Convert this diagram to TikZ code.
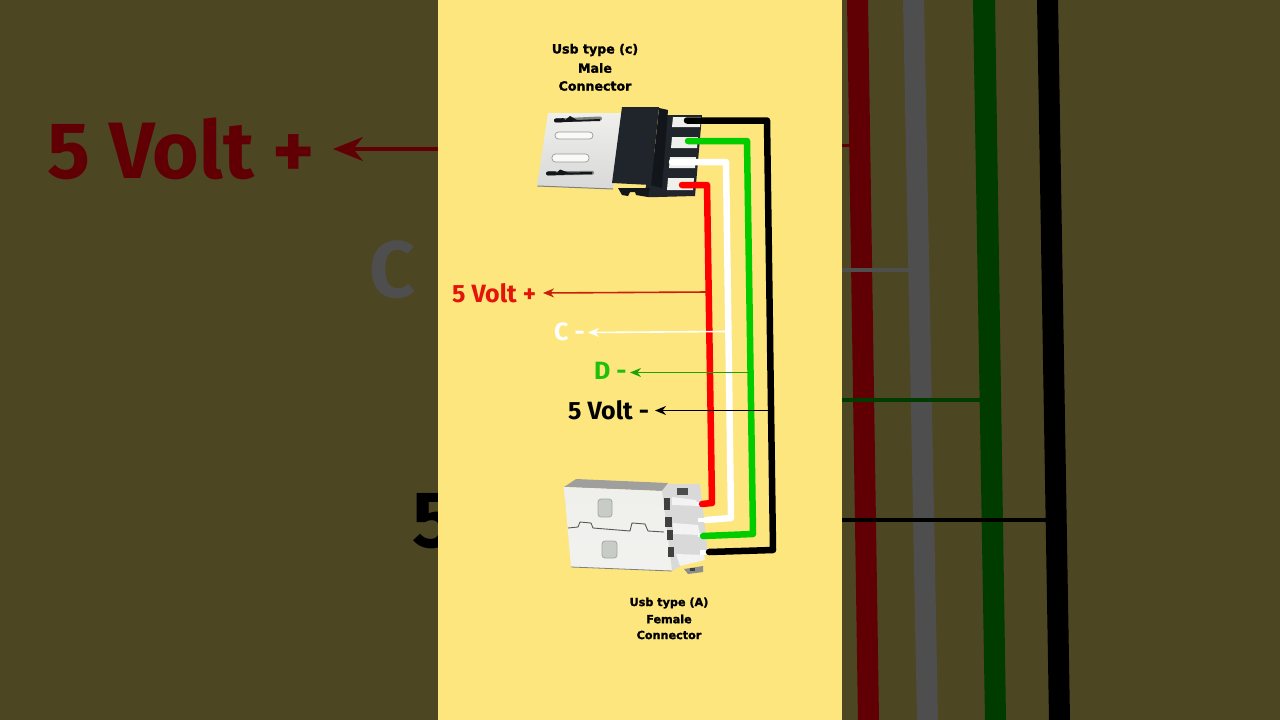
\documentclass[tikz,border=0pt]{standalone}
\usepackage{fontspec}
\usetikzlibrary{arrows.meta}
\setmainfont{Fira Sans}
\newfontfamily\capfont[BoldFont={DejaVu Sans Bold},BoldFeatures={FakeBold=1.6}]{DejaVu Sans}
\definecolor{dimbg}{HTML}{4D4623}
\definecolor{panel}{HTML}{FEE67E}
\definecolor{dimred}{HTML}{600005}
\definecolor{dimgray}{HTML}{4E4E4E}
\definecolor{dimgreen}{HTML}{003C00}
\definecolor{wred}{HTML}{FF0000}
\definecolor{wgreen}{HTML}{00CC00}
\definecolor{lred}{HTML}{E4140A}
\definecolor{lgreen}{HTML}{20C00A}
\definecolor{arred}{HTML}{C8200C}
\definecolor{moldblack}{HTML}{20242B}
\definecolor{molddark}{HTML}{12151A}
\definecolor{metal}{HTML}{EFEFEC}
\definecolor{metalb}{HTML}{D8D9D8}
\definecolor{metald}{HTML}{7F817E}
\definecolor{holefill}{HTML}{C8CCC6}
\tikzset{
  wire/.style={line width=6.5pt,line cap=round,line join=round},
  pointer/.style={line width=1.6pt,-{Stealth[length=11pt,width=9pt]}},
  caption/.style={inner sep=0pt,font=\capfont\bfseries\fontsize{#1}{#1}\selectfont},
  wirelabel/.style={inner sep=0pt,anchor=base west,font=\bfseries\fontsize{25}{25}\selectfont},
  biglabel/.style={inner sep=0pt,anchor=base west,font=\bfseries\fontsize{80}{80}\selectfont},
  pinmetal/.style={fill=metal,draw=none}
}
\begin{document}
\begin{tikzpicture}[x=1pt,y=-1pt]
\useasboundingbox (0,0) rectangle (1280,720);
\fill[dimbg] (0,0) rectangle (1280,720);
% dim enlarged left side
\node[biglabel,text=dimred] (bigv) at (47,178) {5 Volt +};
\coordinate (bigfrom) at (440,149);
\coordinate (bigto) at (333,149);
\draw[line width=3.5pt,dimred,-{Stealth[length=30pt,width=24pt]}] (bigfrom) -- (bigto);
\node[biglabel,text=dimgray] (bigc) at (369,297) {C};
\node[biglabel,text=black] (bigfive) at (412,547) {5};
% dim enlarged right side
\fill[dimred] (847,0) -- (868,0) -- (879,720) -- (858,720) -- cycle;
\fill[dimgray] (903,0) -- (924,0) -- (938,720) -- (917,720) -- cycle;
\fill[dimgreen] (973,0) -- (995,0) -- (1006,720) -- (985,720) -- cycle;
\fill[black] (1037,0) -- (1058,0) -- (1070,720) -- (1049,720) -- cycle;
\fill[dimred] (842,143.5) rectangle (849,146.5);
\fill[dimgray] (842,268) rectangle (909,272);
\fill[dimgreen] (842,398) rectangle (980,402);
\fill[black] (842,518) rectangle (1046,522);
% centre panel
\fill[panel] (438,0) rectangle (842,720);
% captions
\node[caption=12.6] (c1) at (595,50) {Usb type (c)};
\node[caption=12.6] (c2) at (595,68) {Male};
\node[caption=12.6] (c3) at (595,86) {Connector};
\node[caption=11.2] (a1) at (669,603) {Usb type (A)};
\node[caption=11.2] (a2) at (669,619) {Female};
\node[caption=11.2] (a3) at (669,635) {Connector};
% micro connector: back plate and pins
\fill[moldblack] (664,115) -- (702,115) -- (695,196) -- (658,197) -- (648,197) -- (645,190) -- cycle;
\fill[molddark] (618,188) -- (650,188) -- (648,197) -- (636,195) -- (635,192) -- (630,192) -- (628,196) -- (622,195) -- cycle;
\fill[pinmetal] (673,117) -- (701,117) -- (700,127) -- (672,127) -- cycle;
\fill[pinmetal] (672,137) -- (698,137) -- (697,148) -- (671,148) -- cycle;
\fill[pinmetal] (670,157) -- (696,157) -- (695,168) -- (669,168) -- cycle;
\fill[pinmetal] (668,178) -- (694,178) -- (693,190) -- (667,190) -- cycle;
% micro connector: metal shell
\shade[top color=metal,bottom color=metalb] (548,113) -- (622,113) -- (613,189) -- (537,186) -- cycle;
\draw[metald,line width=1pt] (537.5,186) -- (613,189);
\draw[line width=4pt,metald,line cap=round] (556,120.5) -- (600,118.5);
\draw[line width=4pt,molddark,line cap=round] (556,120.5) -- (563,120.2);
\fill[molddark] (563,122) -- (570,116) -- (577,120) -- (600,119) -- (600,121) -- cycle;
\draw[line width=4pt,metald,line cap=round] (548,173.5) -- (592,172.8);
\draw[line width=4pt,molddark,line cap=round] (548,173.5) -- (555,173.4);
\fill[molddark] (555,175) -- (560,169.5) -- (568,172.5) -- (592,172) -- (592,174) -- cycle;
\draw[metald!80,line width=.7pt,fill=metal!40!white,rounded corners=3.5pt] (555,132) rectangle (593,139);
\draw[metald!80,line width=.7pt,fill=metal!40!white,rounded corners=3.5pt] (552,154) rectangle (589,162);
% micro connector: overmould
\fill[molddark] (659,108) -- (668,110) -- (662,188) -- (651,185) -- cycle;
\fill[moldblack] (622,107) -- (659,107) -- (651,185) -- (612,183) -- cycle;
% wire points
\coordinate (k1) at (687,120.5);
\coordinate (k2) at (767,120.5);
\coordinate (k3) at (773,550);
\coordinate (k4) at (709,552);
\coordinate (g1) at (688,141);
\coordinate (g2) at (747,141);
\coordinate (g3) at (753,534);
\coordinate (g4) at (703,536);
\coordinate (w1) at (672,162);
\coordinate (w2) at (726,162);
\coordinate (w3) at (731,518);
\coordinate (w4) at (706,520);
\coordinate (r1) at (682,185);
\coordinate (r2) at (707,185);
\coordinate (r3) at (712,503);
\coordinate (r4) at (702,504);
% USB-A plug
\fill[metald!75!white] (564,487) -- (576,479) -- (668,483) -- (662,491) -- cycle;
\fill[metalb] (662,491) -- (668,484) -- (700,484) -- (708,554) -- (679,567) -- (672,571) -- cycle;
\shade[top color=metal,bottom color=metal!85!white] (564,487) -- (662,491) -- (672,571) -- (571,567) -- cycle;
\draw[metald,line width=.8pt] (571,567) -- (672,571);
\draw[metald!70!black,line width=.9pt] (568,528) -- (578,527) -- (580,522) -- (591,523) -- (593,528) -- (630,531) -- (632,523) -- (645,524) -- (648,531) -- (664,532);
\draw[metald!70,line width=.8pt,fill=holefill,rounded corners=3pt] (598,499) rectangle (612,517);
\draw[metald!70,line width=.8pt,fill=holefill,rounded corners=3pt] (602,541) rectangle (617,558);
\fill[metald!60!black] (677,488) rectangle (688,495);
\fill[metald!50!black] (664,498) rectangle (670,510);
\fill[metald!50!black] (665,517) rectangle (672,527);
\fill[metald!50!black] (667,530) rectangle (673,540);
\fill[metald!50!black] (668,547) rectangle (674,557);
\fill[white!90!metald] (672,497) -- (696,500) -- (698,506) -- (672,505) -- cycle;
\fill[white!70!metald] (672,507) -- (697,507) -- (700,520) -- (672,520) -- cycle;
\fill[white!90!metald] (673,523) -- (698,525) -- (700,535) -- (673,534) -- cycle;
\fill[white!70!metald] (674,537) -- (699,538) -- (702,552) -- (674,551) -- cycle;
\fill[white!90!metald] (676,554) -- (704,555) -- (705,560) -- (680,566) -- cycle;
\fill[metald!90!white] (684,569) -- (703,566) -- (703,572) -- (688,574) -- cycle;
\fill[metald!50!black] (690,568) rectangle (695,571);
\fill[white] (697,502) rectangle (702,506);
\fill[white] (698,518) rectangle (705,522);
\fill[white] (698,533) rectangle (702,537);
\fill[white] (700,550) rectangle (707,555);
% wires
\draw[wire,black] (k1) -- (k2) -- (k3) -- (k4);
\draw[wire,wgreen] (g1) -- (g2) -- (g3) -- (g4);
\draw[wire,white] (w1) -- (w2) -- (w3) -- (w4);
\draw[wire,wred] (r1) -- (r2) -- (r3) -- (r4);
% wire labels
\node[wirelabel,text=lred] (lv) at (452,302) {5 Volt +};
\node[wirelabel,text=white] (lc) at (554,340) {C -};
\node[wirelabel,text=lgreen] (ld) at (594,379) {D -};
\node[wirelabel,text=black] (lk) at (568,419) {5 Volt -};
% pointers
\coordinate (pr) at (708,292);
\coordinate (prt) at (543,293);
\coordinate (pw) at (726,331.5);
\coordinate (pwt) at (588,332.5);
\coordinate (pg) at (749,372.5);
\coordinate (pgt) at (630,372.5);
\coordinate (pk) at (770,410.5);
\coordinate (pkt) at (655,410.5);
\draw[pointer,arred] (pr) -- (prt);
\draw[pointer,white] (pw) -- (pwt);
\draw[pointer,lgreen!85!black] (pg) -- (pgt);
\draw[pointer,black] (pk) -- (pkt);
\end{tikzpicture}
\end{document}
